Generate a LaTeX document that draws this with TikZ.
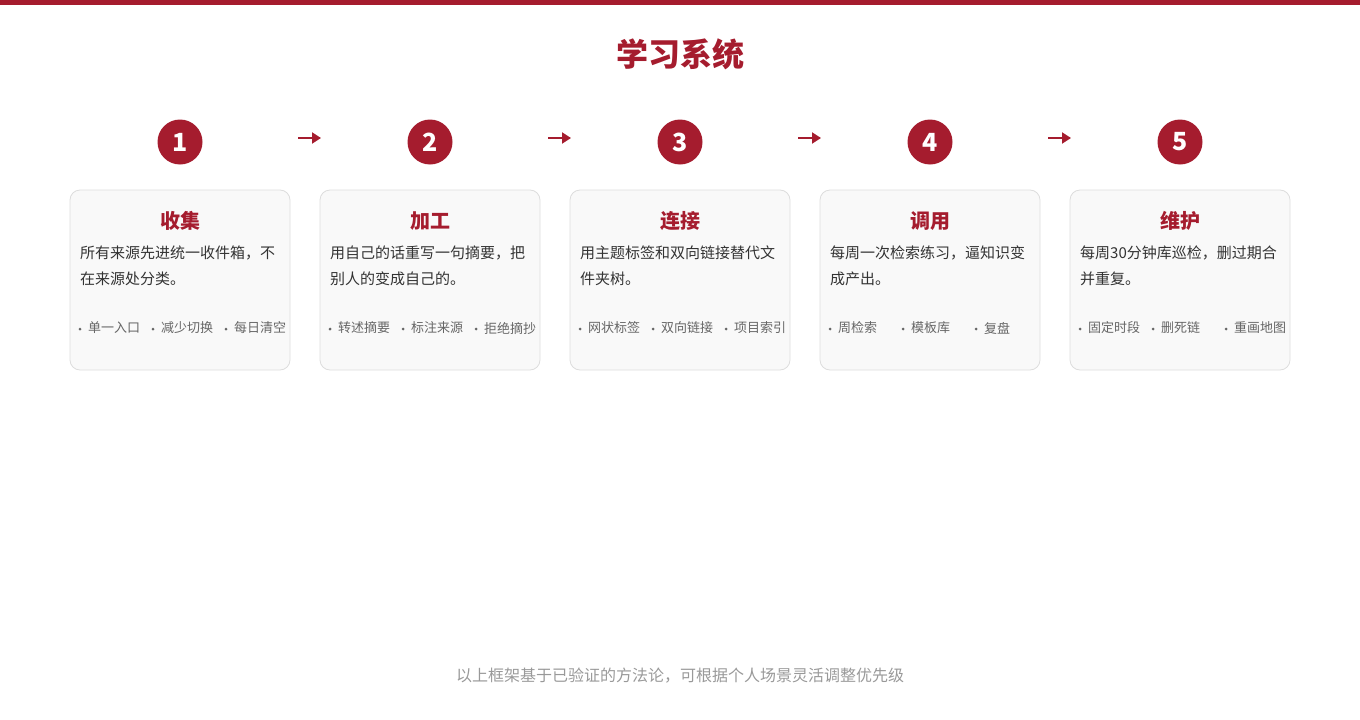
\documentclass[tikz,border=0pt]{standalone}
\usepackage{fontspec}
\setmainfont{Noto Sans CJK SC}
\usetikzlibrary{arrows.meta}
\definecolor{brand}{HTML}{A51C2E}
\definecolor{cardfill}{HTML}{F9F9F9}
\definecolor{cardline}{HTML}{DDDDDD}
\definecolor{desc}{HTML}{333333}
\definecolor{tagc}{HTML}{666666}
\definecolor{foot}{HTML}{999999}
\tikzset{
  cardbox/.style={draw=cardline, fill=cardfill, line width=0.8pt, rounded corners=10pt},
  numdot/.style={circle, fill=brand, minimum size=45pt, inner sep=0pt, text=white, font=\fontsize{25}{25}\selectfont\bfseries},
  cardtitle/.style={text=brand, font=\fontsize{20}{20}\selectfont\bfseries, inner sep=0pt},
  desctext/.style={text=desc, font=\fontsize{15}{15}\selectfont, inner sep=0pt, anchor=west},
  tagtext/.style={text=tagc, font=\fontsize{13}{13}\selectfont, inner sep=0pt, anchor=west},
  tagdot/.style={circle, fill=tagc, minimum size=3pt, inner sep=0pt},
  flowarrow/.style={draw=brand, line width=2pt, -{Triangle[length=9pt,width=11pt]}},
}
\begin{document}
\begin{tikzpicture}[x=1pt,y=-1pt]
\useasboundingbox (0,0) rectangle (1360,720);
\fill[brand] (0,0) rectangle (1360,5);
\node[text=brand, font=\fontsize{32}{32}\selectfont\bfseries, inner sep=0pt] (title) at (680,54) {学习系统};
\foreach \i/\t/\la/\lb/\p/\q/\r in {
  1/收集/所有来源先进统一收件箱，不/在来源处分类。/单一入口/减少切换/每日清空,
  2/加工/用自己的话重写一句摘要，把/别人的变成自己的。/转述摘要/标注来源/拒绝摘抄,
  3/连接/用主题标签和双向链接替代文/件夹树。/网状标签/双向链接/项目索引,
  4/调用/每周一次检索练习，逼知识变/成产出。/周检索/模板库/复盘,
  5/维护/每周30分钟库巡检，删过期合/并重复。/固定时段/删死链/重画地图}{
  \pgfmathsetmacro{\cx}{180+250*(\i-1)}
  \pgfmathsetmacro{\lx}{70+250*(\i-1)}
  \node[numdot] (num\i) at (\cx,142) {\i};
  \draw[cardbox] (\lx,190) rectangle ++(220,180);
  \coordinate (card\i) at (\cx,280);
  \node[cardtitle] (ttl\i) at (\cx,221) {\t};
  \node[desctext] (da\i) at (\lx+10,252.5) {\la};
  \node[desctext] (db\i) at (\lx+10,278.5) {\lb};
  \node[tagdot] (dp\i) at (\lx+10,329) {};
  \node[tagtext] (tp\i) at (\lx+18,328) {\p};
  \node[tagdot] (dq\i) at (\lx+83,329) {};
  \node[tagtext] (tq\i) at (\lx+91,328) {\q};
  \node[tagdot] (dr\i) at (\lx+156,329) {};
  \node[tagtext] (tr\i) at (\lx+164,328) {\r};
}
\foreach \i in {1,2,3,4}{
  \pgfmathsetmacro{\ax}{298+250*(\i-1)}
  \coordinate (as\i) at (\ax,138);
  \coordinate (ae\i) at (\ax+23,138);
  \draw[flowarrow] (as\i) -- (ae\i);
}
\node[text=foot, font=\fontsize{16}{16}\selectfont, inner sep=0pt] (footer) at (680,676) {以上框架基于已验证的方法论，可根据个人场景灵活调整优先级};
\end{tikzpicture}
\end{document}
